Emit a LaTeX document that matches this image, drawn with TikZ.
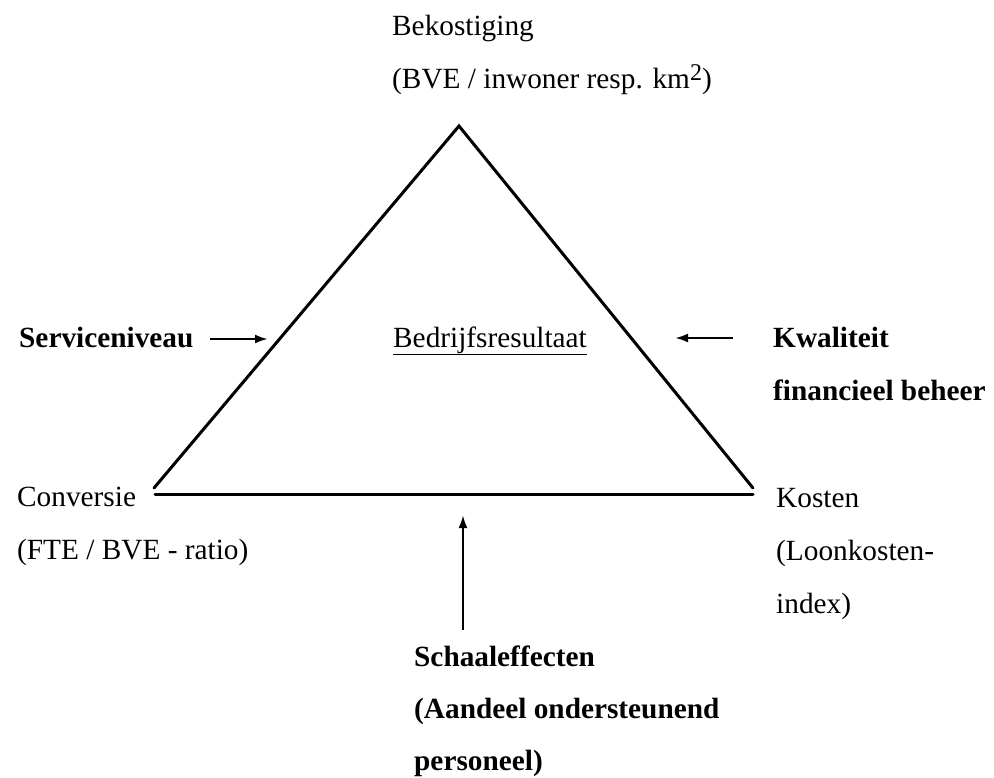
\documentclass[tikz,border=0pt]{standalone}
\usepackage{fontspec}
\setmainfont{Liberation Serif}
\usepackage{tikz}
\usetikzlibrary{arrows.meta}

\begin{document}
\begin{tikzpicture}[x=1pt,y=-1pt,>={Latex[length=13pt,width=9pt]},
    txt/.style={anchor=base west,inner sep=0pt,font=\fontsize{29.3}{35}\selectfont},
    bold txt/.style={txt,font=\fontsize{29.3}{35}\selectfont\bfseries},
    side/.style={line width=3pt,line cap=round,line join=miter},
    push/.style={->,line width=2.4pt}]

  \useasboundingbox (0,0) rectangle (994,777);

  % corners of the triangle
  \coordinate (top) at (459,126);
  \coordinate (lc) at (154,488);
  \coordinate (rc) at (753,488);
  \coordinate (bl) at (155,494);
  \coordinate (br) at (753,494);

  \draw[side] (lc) -- (top) -- (rc);
  \draw[side] (bl) -- (br);

  % top
  \node[txt] (fund1) at (392,35) {Bekostiging};
  \node[txt] (fund2) at (392,88) {(BVE / inwoner resp. km\raisebox{8pt}{\fontsize{24}{24}\selectfont 2})};

  % centre
  \node[txt] (result) at (393,347) {\underline{Bedrijfsresultaat}};

  % left
  \node[bold txt] (service) at (19,347) {Serviceniveau};
  \coordinate (sv-a) at (210,339);
  \coordinate (sv-b) at (268,339);
  \draw[push] (sv-a) -- (sv-b);

  % right
  \node[bold txt] (quality1) at (773,347) {Kwaliteit};
  \node[bold txt] (quality2) at (773,400) {financieel beheer};
  \coordinate (kw-a) at (733,338);
  \coordinate (kw-b) at (675,338);
  \draw[push] (kw-a) -- (kw-b);

  % bottom corners
  \node[txt] (conv1) at (17,506) {Conversie};
  \node[txt] (conv2) at (17,559) {(FTE / BVE - ratio)};
  \node[txt] (cost1) at (776,507) {Kosten};
  \node[txt] (cost2) at (776,560) {(Loonkosten-};
  \node[txt] (cost3) at (776,613) {index)};

  % bottom
  \coordinate (sc-a) at (463,630);
  \coordinate (sc-b) at (463,515);
  \draw[push] (sc-a) -- (sc-b);
  \node[bold txt] (scale1) at (414,666) {Schaaleffecten};
  \node[bold txt] (scale2) at (414,718) {(Aandeel ondersteunend};
  \node[bold txt] (scale3) at (414,770) {personeel)};

\end{tikzpicture}
\end{document}
